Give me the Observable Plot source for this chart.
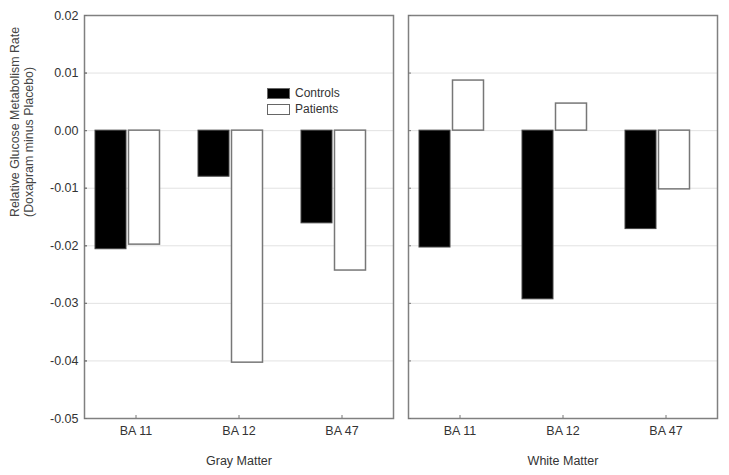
<!DOCTYPE html>
<html>
<head>
<meta charset="utf-8">
<script src="https://cdn.jsdelivr.net/npm/d3@7"></script>
<script src="https://cdn.jsdelivr.net/npm/@observablehq/plot@0.6"></script>
<style>
  html, body { margin: 0; padding: 0; background: #fff; }
  #wrap { position: relative; width: 729px; height: 475px; font-family: "Liberation Sans", Arial, sans-serif; }
  .legend { position: absolute; left: 267px; top: 85px; font-size: 12px; color: #333; line-height: 16px; }
  .legend .row { display: flex; align-items: center; height: 16px; }
  .legend .sw { width: 23px; height: 11px; box-sizing: border-box; border: 1.5px solid #666; margin-right: 5px; }
</style>
</head>
<body>
<div id="wrap"></div>
<script>
const regions = ["BA 11", "BA 12", "BA 47"];
const matters = ["Gray Matter", "White Matter"];
const groups = ["Controls", "Patients"];
const controlsGray = [-0.0206, -0.0080, -0.0161];
const patientsGray = [-0.0198, -0.0403, -0.0243];
const controlsWhite = [-0.0203, -0.0293, -0.0171];
const patientsWhite = [0.0087, 0.0047, -0.0102];
const yTicks = [0.02, 0.01, 0.00, -0.01, -0.02, -0.03, -0.04, -0.05];
const yLabel = "Relative Glucose Metabolism Rate\n(Doxapram minus Placebo)";

const series = {
  "Gray Matter": {Controls: controlsGray, Patients: patientsGray},
  "White Matter": {Controls: controlsWhite, Patients: patientsWhite}
};
const rows = [];
for (const m of matters) for (const g of groups) regions.forEach((r, i) => rows.push({matter: m, group: g, region: r, value: series[m][g][i]}));

const fmt = d => d.toFixed(2);

const chart = Plot.plot({
  width: 729,
  height: 475,
  marginTop: 15,
  marginBottom: 57,
  marginLeft: 84,
  marginRight: 11,
  style: {fontFamily: "Liberation Sans, Arial, sans-serif", fontSize: "12.5px", color: "#333", background: "#fff"},
  fx: {domain: matters, padding: 0.045},
  x: {domain: regions, paddingInner: 0.7, paddingOuter: 0.35},
  y: {domain: [-0.05, 0.02]},
  marks: [
    Plot.gridY(yTicks, {stroke: "#e2e2e2", strokeOpacity: 1}),
    Plot.barY(rows.filter(d => d.group === "Controls"), {fx: "matter", x: "region", y: "value", fill: "#000", stroke: "#444", strokeWidth: 1, dx: -25}),
    Plot.barY(rows.filter(d => d.group === "Patients"), {fx: "matter", x: "region", y: "value", fill: "#fff", stroke: "#777", strokeWidth: 1.5, dx: 8.5}),
    Plot.frame({stroke: "#808080", strokeWidth: 1.5}),
    Plot.axisY(yTicks, {tickSize: -3, tickPadding: 9, tickFormat: fmt, stroke: "#777", fill: "#333", label: null, fontSize: 12.5}),
    Plot.axisY(yTicks, {tickSize: -3, text: null, stroke: "#777", facetAnchor: null, label: null}),
    Plot.axisX({tickSize: -3, tickPadding: 11, stroke: "#777", fill: "#333", label: null, facetAnchor: null, fontSize: 12.5}),
    Plot.axisFx({anchor: "bottom", tickSize: 0, tickPadding: 38, fill: "#333", label: null, fontSize: 12.5}),
    Plot.text([yLabel], {fx: ["Gray Matter"], frameAnchor: "left", rotate: -90, dx: -63, lineHeight: 1.1, fill: "#444", fontSize: 12.4})
  ]
});

const wrap = document.getElementById("wrap");
wrap.appendChild(chart);
const legend = document.createElement("div");
legend.className = "legend";
legend.innerHTML = groups.map((g, i) => `<div class="row"><div class="sw" style="background:${i === 0 ? "#000" : "#fff"}"></div><span>${g}</span></div>`).join("");
wrap.appendChild(legend);
</script>
</body>
</html>
